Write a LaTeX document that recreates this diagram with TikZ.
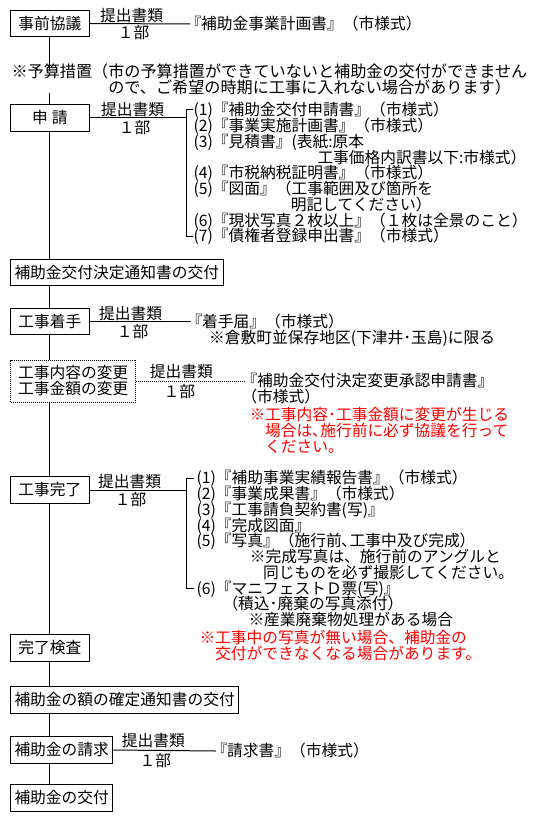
\documentclass[tikz,border=0pt]{standalone}
\usepackage{fontspec}
\setmainfont{Noto Sans CJK JP}
\usetikzlibrary{positioning}
\definecolor{notered}{RGB}{255,0,0}

\tikzset{every picture/.style={line width=0.75pt}}
\tikzset{
  stage/.style={draw, anchor=west, inner xsep=3pt, inner ysep=0pt, minimum width=59pt, minimum height=20pt},
  memo/.style={inner sep=0pt, align=left},
  sub/.style={inner sep=0pt},
  fine dots/.style={dash pattern=on 0.75pt off 0.75pt}
}

\begin{document}
\lineskiplimit=-10pt
\lineskip=0pt
\begin{tikzpicture}[x=0.75pt,y=0.75pt,yscale=-1,xscale=1,font=\fontsize{11.8pt}{11.8pt}\selectfont]
	\useasboundingbox (0,0) rectangle (538,820);
	\coordinate (spine) at (49,0);
	\coordinate (br) at (186,0);

	% Stages
	\node[stage] (jizen) at (10,23.5) {事前協議};
	\node[stage] (shinsei) at (10,118) {申\hspace{3pt}請};
	\node[stage] (kettei) at (10,272.5) {補助金交付決定通知書の交付};
	\node[stage] (chakushu) at (10,321.5) {工事着手};
	\node[stage, fine dots, align=left, inner xsep=4pt, minimum width=94pt, minimum height=31.5pt, font=\fontsize{11.8pt}{12pt}\selectfont] (henkou) at (10,381) {工事内容の変更\\工事金額の変更};
	\node[stage] (kanryou) at (10,490) {工事完了};
	\node[stage] (kensa) at (10,648) {完了検査};
	\node[stage] (kakutei) at (10,700) {補助金の額の確定通知書の交付};
	\node[stage] (seikyu) at (10,750) {補助金の請求};
	\node[stage] (koufu) at (10,798) {補助金の交付};

	% Budget note
	\node[memo, anchor=north west, font=\fontsize{12.1pt}{12pt}\selectfont] (yosan) at (11,63) {※予算措置（市の予算措置ができていないと補助金の交付ができません\\\phantom{※予算措置（}ので、ご希望の時期に工事に入れない場合があります）};

	% Spine
	\draw (jizen.south -| spine) -- ([yshift=6pt]yosan.north -| spine);
	\draw ([yshift=-1.5pt]yosan.south -| spine) -- (shinsei.north -| spine);
	\draw (shinsei.south -| spine) -- (kettei.north -| spine);
	\draw (kettei.south -| spine) -- (chakushu.north -| spine);
	\draw (chakushu.south -| spine) -- (henkou.north -| spine);
	\draw (henkou.south -| spine) -- (kanryou.north -| spine);
	\draw (kanryou.south -| spine) -- (kensa.north -| spine);
	\draw (kensa.south -| spine) -- (kakutei.north -| spine);
	\draw (kakutei.south -| spine) -- (seikyu.north -| spine);
	\draw (seikyu.south -| spine) -- (koufu.north -| spine);

	% Jizen kyogi
	\node[sub, anchor=west] (jizendoc) at (185,24) {『補助金事業計画書』（市様式）};
	\draw (jizen.east) -- ([xshift=3.75pt]jizendoc.west);
	\path (jizen.east) ++(42,-8) node[sub] (jizenA) {提出書類} ++(2,17.5) node[sub] (jizenB) {１部};

	% Shinsei
	\node[memo, anchor=north west] (shinseidoc) at (193,102) {(1)『補助金交付申請書』（市様式）\\
(2)『事業実施計画書』（市様式）\\
(3)『見積書』(表紙:原本\\
\hspace*{93pt}工事価格内訳書以下:市様式）\\
(4)『市税納税証明書』（市様式）\\
(5)『図面』（工事範囲及び箇所を\\
\hspace*{73pt}明記してください）\\
(6)『現状写真２枚以上』（１枚は全景のこと）\\
(7)『債権者登録申出書』（市様式）};
	\coordinate (shinseiTop) at (193,110);
	\coordinate (shinseiEnd) at (193,236);
	\draw (shinsei.east) -- (shinsei.east -| br);
	\draw (shinseiTop) -- (shinseiTop -| br) -- (shinseiEnd -| br) -- (shinseiEnd);
	\path (shinsei.east) ++(43,-8) node[sub] (shinseiA) {提出書類} ++(2,17.5) node[sub] (shinseiB) {１部};

	% Chakushu
	\node[memo, anchor=north west] (chakushudoc) at (186,314) {『着手届』（市様式）\\
\hspace*{17pt}※倉敷町並保存地区(下津井･玉島)に限る};
	\draw (chakushu.east) -- ([xshift=4pt]chakushudoc.west |- chakushu.east);
	\path (chakushu.east) ++(41,-8) node[sub] (chakushuA) {提出書類} ++(2,18) node[sub] (chakushuB) {１部};

	% Henkou
	\node[memo, anchor=north west] (henkoudoc) at (241,373) {『補助金交付決定変更承認申請書』\\（市様式）};
	\node[memo, anchor=north west, text=notered] (henkounote) at (249,407) {※工事内容･工事金額に変更が生じる\\
\hspace*{1em}場合は､施行前に必ず協議を行って\\
\hspace*{1em}ください。};
	\draw[fine dots] (henkou.east) -- ([xshift=3pt]henkoudoc.west |- henkou.east);
	\path (henkou.east) ++(45,-9) node[sub] (henkouA) {提出書類} ++(-2,20) node[sub] (henkouB) {１部};

	% Kanryou
	\node[memo, anchor=north west] (kanryoudoc) at (196,470) {(1)『補助事業実績報告書』（市様式）\\
(2)『事業成果書』（市様式）\\
(3)『工事請負契約書(写)』\\
(4)『完成図面』\\
(5)『写真』（施行前､工事中及び完成）\\
\hspace*{40pt}※完成写真は、施行前のアングルと\\
\hspace*{50pt}同じものを必ず撮影してください。\\
(6)『マニフェストＤ票(写)』\\
\hspace*{19.5pt}（積込･廃棄の写真添付）\\
\hspace*{39pt}※産業廃棄物処理がある場合};
	\coordinate (kanryouTop) at (194,478);
	\coordinate (kanryouEnd) at (194,588);
	\draw (kanryou.east) -- (kanryou.east -| br);
	\draw (kanryouTop) -- (kanryouTop -| br) -- (kanryouEnd -| br) -- (kanryouEnd);
	\path (kanryou.east) ++(40,-8) node[sub] (kanryouA) {提出書類} ++(1,18) node[sub] (kanryouB) {１部};
	\node[memo, anchor=north west, text=notered] (kanryounote) at (199,630) {※工事中の写真が無い場合、補助金の\\
\hspace*{1em}交付ができなくなる場合があります。};

	% Seikyu
	\node[sub, anchor=west] (seikyudoc) at (211,751) {『請求書』（市様式）};
	\draw (seikyu.east) -- ([xshift=3.75pt]seikyudoc.west);
	\path (seikyu.east) ++(40,-9) node[sub] (seikyuA) {提出書類} ++(2,20) node[sub] (seikyuB) {１部};

\end{tikzpicture}
\end{document}
